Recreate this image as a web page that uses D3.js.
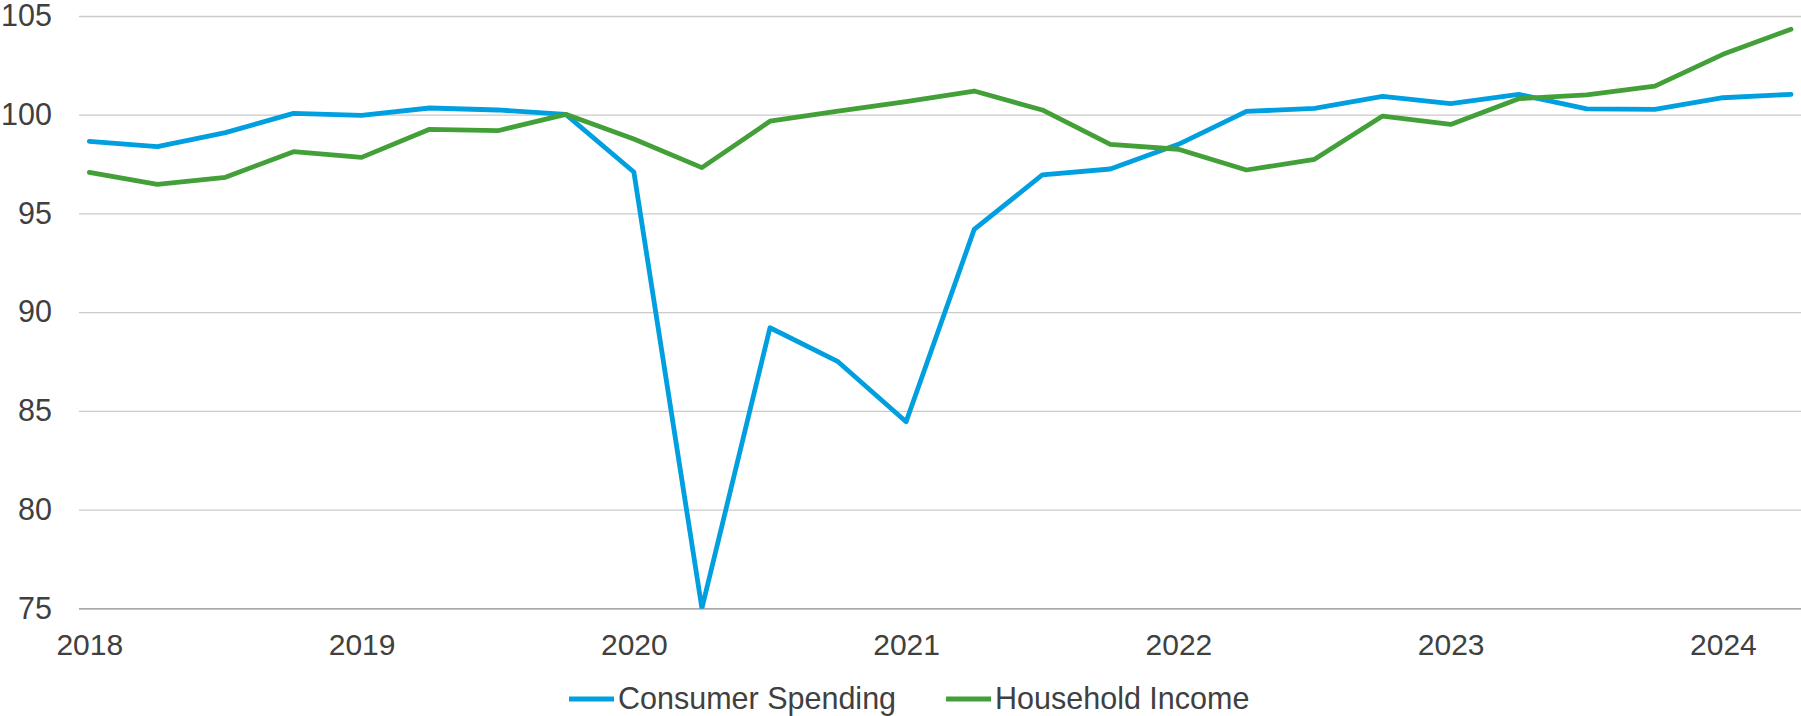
<!DOCTYPE html>
<html>
<head>
<meta charset="utf-8">
<title>Consumer Spending vs Household Income</title>
<script src="https://d3js.org/d3.v7.min.js"></script>
<style>
  body { margin: 0; background: #fff; }
  svg text { font-family: "Liberation Sans", Arial, sans-serif; fill: #404040; }
</style>
</head>
<body>
<script>

// quarters from 2018 Q1 to 2024 Q2
var quarters = ["2018Q1","2018Q2","2018Q3","2018Q4","2019Q1","2019Q2","2019Q3","2019Q4",
                "2020Q1","2020Q2","2020Q3","2020Q4","2021Q1","2021Q2","2021Q3","2021Q4",
                "2022Q1","2022Q2","2022Q3","2022Q4","2023Q1","2023Q2","2023Q3","2023Q4",
                "2024Q1","2024Q2"];

// index values
var spending = [98.65, 98.38, 99.09, 100.07, 99.97, 100.34, 100.24, 100.02,
                97.1, 75.0, 89.21, 87.49, 84.45, 94.19, 96.95, 97.25,
                98.5, 100.17, 100.32, 100.93, 100.56, 101.03, 100.3, 100.27,
                100.86, 101.03];
var income   = [97.08, 96.47, 96.83, 98.13, 97.84, 99.26, 99.19, 100.02,
                98.77, 97.32, 99.67, 100.18, 100.66, 101.2, 100.24, 98.5,
                98.25, 97.2, 97.74, 99.93, 99.51, 100.81, 101.01, 101.45,
                103.06, 104.33];

var yTicks = [75, 80, 85, 90, 95, 100, 105];
var seriesNames = ["Consumer Spending", "Household Income"];
var colours = ["#009fdf", "#43a038"];

var width = 1801, height = 716;
var plotLeft = 79, plotRight = 1801;

var svg = d3.select("body").append("svg")
    .attr("width", width)
    .attr("height", height);

var x = d3.scalePoint().domain(quarters).range([89.3, 1791]);
var y = d3.scaleLinear().domain([75, 105]).range([608.3, 16]);

// gridlines + y labels
var yAxis = svg.append("g")
    .attr("transform", "translate(" + plotLeft + ",0)")
    .call(d3.axisLeft(y).tickValues(yTicks).tickSize(-(plotRight - plotLeft)).tickPadding(27));
yAxis.select(".domain").remove();
yAxis.selectAll("line")
    .attr("stroke", function (d) { return d == 75 ? "#8c8c8c" : "#cacaca"; })
    .attr("stroke-width", 1.3);
yAxis.selectAll("text")
    .attr("font-size", "30.5px")
    .attr("fill", "#404040");

// x labels, one per year
var xAxis = svg.append("g")
    .attr("transform", "translate(0," + y(75) + ")")
    .call(d3.axisBottom(x)
        .tickValues(quarters.filter(function (q) { return q.slice(4) == "Q1"; }))
        .tickFormat(function (q) { return q.slice(0, 4); })
        .tickSize(0).tickPadding(25));
xAxis.select(".domain").remove();
xAxis.selectAll("text")
    .attr("font-size", "30px")
    .attr("fill", "#404040");

// clip lines to the plot area
svg.append("clipPath").attr("id", "plotclip")
    .append("rect")
    .attr("x", plotLeft).attr("y", 0)
    .attr("width", plotRight - plotLeft).attr("height", y(75) + 0.5);

var line = d3.line()
    .x(function (d, i) { return x(quarters[i]); })
    .y(function (d) { return y(d); });

var allSeries = [spending, income];
svg.append("g").attr("clip-path", "url(#plotclip)")
    .selectAll("path")
    .data(allSeries)
    .enter()
    .append("path")
    .attr("d", line)
    .attr("fill", "none")
    .attr("stroke", function (d, i) { return colours[i]; })
    .attr("stroke-width", 4.8)
    .attr("stroke-linejoin", "round")
    .attr("stroke-linecap", "round");

// legend
var legend = svg.append("g");
var lx = 569;
seriesNames.forEach(function (name, i) {
    legend.append("line")
        .attr("x1", lx).attr("x2", lx + 45)
        .attr("y1", 699).attr("y2", 699)
        .attr("stroke", colours[i])
        .attr("stroke-width", 4.8);
    var t = legend.append("text")
        .attr("x", lx + 49)
        .attr("y", 709)
        .attr("font-size", "30.5px")
        .text(name);
    lx = lx + 49 + t.node().getComputedTextLength() + 50;
});

</script>
</body>
</html>
